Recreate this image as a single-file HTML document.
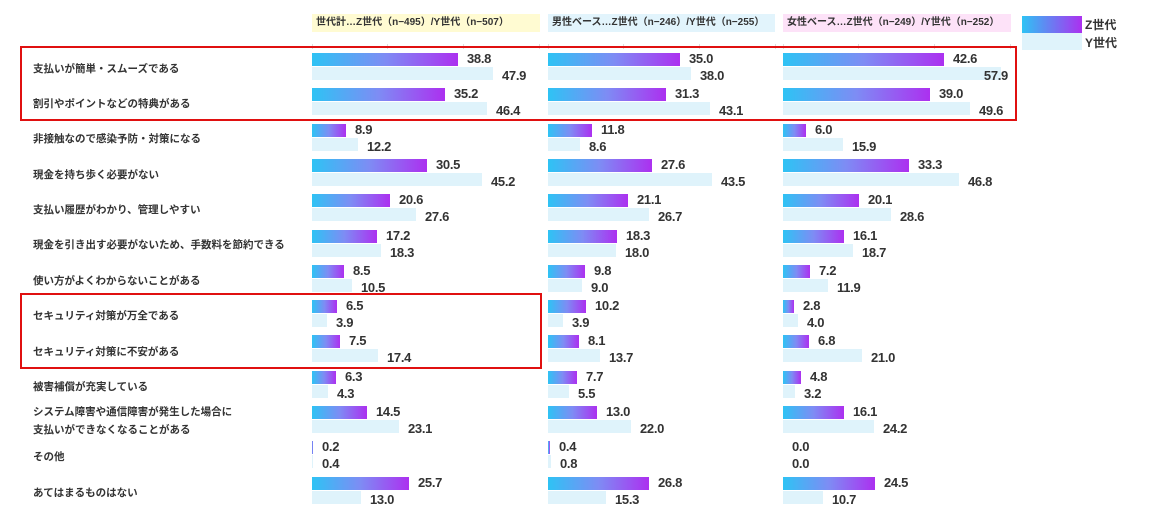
<!DOCTYPE html>
<html><head><meta charset="utf-8"><style>
body{margin:0;width:1156px;height:522px;background:#fff;position:relative;overflow:hidden;font-family:"Liberation Sans","Noto Sans CJK JP",sans-serif;color:#333}
.a{position:absolute}
.hd{position:absolute;top:14px;height:18px;font-size:10px;line-height:18px;padding-left:4px;box-sizing:border-box;color:#333;font-weight:bold}
.lb{position:absolute;left:33px;font-size:10.5px;font-weight:bold;color:#333;white-space:nowrap}
.z,.y{position:absolute;height:13px}
.z{background:linear-gradient(90deg,#2ec3f4,#7e8cf4 50%,#ac30f0)}
.y{background:#dff3fb}
.z span,.y span{position:absolute;left:100%;margin-left:9px;top:-2px;font-size:13px;line-height:16px;color:#333;white-space:nowrap;font-weight:bold;letter-spacing:-0.3px}
.y span{top:1px}
.red{position:absolute;border:2px solid #e01010;box-sizing:border-box}
.tk{position:absolute;top:44px;width:1px;height:5px;background:#ddd}
</style></head><body>
<div class="hd" style="left:312px;width:228px;background:#fffbd2">世代計…Z世代（n−495）/Y世代（n−507）</div>
<div class="hd" style="left:548px;width:227px;background:#e2f4fc">男性ベース…Z世代（n−246）/Y世代（n−255）</div>
<div class="hd" style="left:783px;width:228px;background:#fde2f8">女性ベース…Z世代（n−249）/Y世代（n−252）</div>
<div class="a" style="left:1022px;top:16px;width:60px;height:17px;background:linear-gradient(90deg,#2ec3f4,#ac30f0)"></div>
<div class="a" style="left:1022px;top:33px;width:60px;height:17px;background:#dff3fb"></div>
<div class="a" style="left:1085px;top:16px;font-size:12px;font-weight:bold">Z世代</div>
<div class="a" style="left:1085px;top:34px;font-size:12px;font-weight:bold">Y世代</div>
<div class="tk" style="left:312px"></div><div class="tk" style="left:387px"></div><div class="tk" style="left:463px"></div><div class="tk" style="left:539px"></div>
<div class="tk" style="left:548px"></div><div class="tk" style="left:623px"></div><div class="tk" style="left:699px"></div><div class="tk" style="left:775px"></div>
<div class="tk" style="left:783px"></div><div class="tk" style="left:858px"></div><div class="tk" style="left:934px"></div><div class="tk" style="left:1010px"></div>

<div class="lb" style="top:61px">支払いが簡単・スムーズである</div>
<div class="lb" style="top:96px">割引やポイントなどの特典がある</div>
<div class="lb" style="top:131px">非接触なので感染予防・対策になる</div>
<div class="lb" style="top:167px">現金を持ち歩く必要がない</div>
<div class="lb" style="top:202px">支払い履歴がわかり、管理しやすい</div>
<div class="lb" style="top:237px">現金を引き出す必要がないため、手数料を節約できる</div>
<div class="lb" style="top:273px">使い方がよくわからないことがある</div>
<div class="lb" style="top:308px">セキュリティ対策が万全である</div>
<div class="lb" style="top:344px">セキュリティ対策に不安がある</div>
<div class="lb" style="top:379px">被害補償が充実している</div>
<div class="lb" style="top:404px">システム障害や通信障害が発生した場合に</div>
<div class="lb" style="top:422px">支払いができなくなることがある</div>
<div class="lb" style="top:449px">その他</div>
<div class="lb" style="top:485px">あてはまるものはない</div>

<div class="z" style="left:312px;top:53px;width:146px"><span>38.8</span></div><div class="y" style="left:312px;top:67px;width:181px"><span>47.9</span></div>
<div class="z" style="left:548px;top:53px;width:132px"><span>35.0</span></div><div class="y" style="left:548px;top:67px;width:143px"><span>38.0</span></div>
<div class="z" style="left:783px;top:53px;width:161px"><span>42.6</span></div><div class="y" style="left:783px;top:67px;width:218px"><span style="left:auto;right:-7px;margin-left:0">57.9</span></div>

<div class="z" style="left:312px;top:88px;width:133px"><span>35.2</span></div><div class="y" style="left:312px;top:102px;width:175px"><span>46.4</span></div>
<div class="z" style="left:548px;top:88px;width:118px"><span>31.3</span></div><div class="y" style="left:548px;top:102px;width:162px"><span>43.1</span></div>
<div class="z" style="left:783px;top:88px;width:147px"><span>39.0</span></div><div class="y" style="left:783px;top:102px;width:187px"><span>49.6</span></div>

<div class="z" style="left:312px;top:124px;width:34px"><span>8.9</span></div><div class="y" style="left:312px;top:138px;width:46px"><span>12.2</span></div>
<div class="z" style="left:548px;top:124px;width:44px"><span>11.8</span></div><div class="y" style="left:548px;top:138px;width:32px"><span>8.6</span></div>
<div class="z" style="left:783px;top:124px;width:23px"><span>6.0</span></div><div class="y" style="left:783px;top:138px;width:60px"><span>15.9</span></div>

<div class="z" style="left:312px;top:159px;width:115px"><span>30.5</span></div><div class="y" style="left:312px;top:173px;width:170px"><span>45.2</span></div>
<div class="z" style="left:548px;top:159px;width:104px"><span>27.6</span></div><div class="y" style="left:548px;top:173px;width:164px"><span>43.5</span></div>
<div class="z" style="left:783px;top:159px;width:126px"><span>33.3</span></div><div class="y" style="left:783px;top:173px;width:176px"><span>46.8</span></div>

<div class="z" style="left:312px;top:194px;width:78px"><span>20.6</span></div><div class="y" style="left:312px;top:208px;width:104px"><span>27.6</span></div>
<div class="z" style="left:548px;top:194px;width:80px"><span>21.1</span></div><div class="y" style="left:548px;top:208px;width:101px"><span>26.7</span></div>
<div class="z" style="left:783px;top:194px;width:76px"><span>20.1</span></div><div class="y" style="left:783px;top:208px;width:108px"><span>28.6</span></div>

<div class="z" style="left:312px;top:230px;width:65px"><span>17.2</span></div><div class="y" style="left:312px;top:244px;width:69px"><span>18.3</span></div>
<div class="z" style="left:548px;top:230px;width:69px"><span>18.3</span></div><div class="y" style="left:548px;top:244px;width:68px"><span>18.0</span></div>
<div class="z" style="left:783px;top:230px;width:61px"><span>16.1</span></div><div class="y" style="left:783px;top:244px;width:70px"><span>18.7</span></div>

<div class="z" style="left:312px;top:265px;width:32px"><span>8.5</span></div><div class="y" style="left:312px;top:279px;width:40px"><span>10.5</span></div>
<div class="z" style="left:548px;top:265px;width:37px"><span>9.8</span></div><div class="y" style="left:548px;top:279px;width:34px"><span>9.0</span></div>
<div class="z" style="left:783px;top:265px;width:27px"><span>7.2</span></div><div class="y" style="left:783px;top:279px;width:45px"><span>11.9</span></div>

<div class="z" style="left:312px;top:300px;width:25px"><span>6.5</span></div><div class="y" style="left:312px;top:314px;width:15px"><span>3.9</span></div>
<div class="z" style="left:548px;top:300px;width:38px"><span>10.2</span></div><div class="y" style="left:548px;top:314px;width:15px"><span>3.9</span></div>
<div class="z" style="left:783px;top:300px;width:11px"><span>2.8</span></div><div class="y" style="left:783px;top:314px;width:15px"><span>4.0</span></div>

<div class="z" style="left:312px;top:335px;width:28px"><span>7.5</span></div><div class="y" style="left:312px;top:349px;width:66px"><span>17.4</span></div>
<div class="z" style="left:548px;top:335px;width:31px"><span>8.1</span></div><div class="y" style="left:548px;top:349px;width:52px"><span>13.7</span></div>
<div class="z" style="left:783px;top:335px;width:26px"><span>6.8</span></div><div class="y" style="left:783px;top:349px;width:79px"><span>21.0</span></div>

<div class="z" style="left:312px;top:371px;width:24px"><span>6.3</span></div><div class="y" style="left:312px;top:385px;width:16px"><span>4.3</span></div>
<div class="z" style="left:548px;top:371px;width:29px"><span>7.7</span></div><div class="y" style="left:548px;top:385px;width:21px"><span>5.5</span></div>
<div class="z" style="left:783px;top:371px;width:18px"><span>4.8</span></div><div class="y" style="left:783px;top:385px;width:12px"><span>3.2</span></div>

<div class="z" style="left:312px;top:406px;width:55px"><span>14.5</span></div><div class="y" style="left:312px;top:420px;width:87px"><span>23.1</span></div>
<div class="z" style="left:548px;top:406px;width:49px"><span>13.0</span></div><div class="y" style="left:548px;top:420px;width:83px"><span>22.0</span></div>
<div class="z" style="left:783px;top:406px;width:61px"><span>16.1</span></div><div class="y" style="left:783px;top:420px;width:91px"><span>24.2</span></div>

<div class="z" style="left:312px;top:441px;width:1px"><span>0.2</span></div><div class="y" style="left:312px;top:455px;width:1px"><span>0.4</span></div>
<div class="z" style="left:548px;top:441px;width:2px"><span>0.4</span></div><div class="y" style="left:548px;top:455px;width:3px"><span>0.8</span></div>
<div class="z" style="left:783px;top:441px;width:0px"><span>0.0</span></div><div class="y" style="left:783px;top:455px;width:0px"><span>0.0</span></div>

<div class="z" style="left:312px;top:477px;width:97px"><span>25.7</span></div><div class="y" style="left:312px;top:491px;width:49px"><span>13.0</span></div>
<div class="z" style="left:548px;top:477px;width:101px"><span>26.8</span></div><div class="y" style="left:548px;top:491px;width:58px"><span>15.3</span></div>
<div class="z" style="left:783px;top:477px;width:92px"><span>24.5</span></div><div class="y" style="left:783px;top:491px;width:40px"><span>10.7</span></div>

<div class="red" style="left:20px;top:46px;width:997px;height:75px"></div>
<div class="red" style="left:20px;top:293px;width:522px;height:76px"></div>
</body></html>
